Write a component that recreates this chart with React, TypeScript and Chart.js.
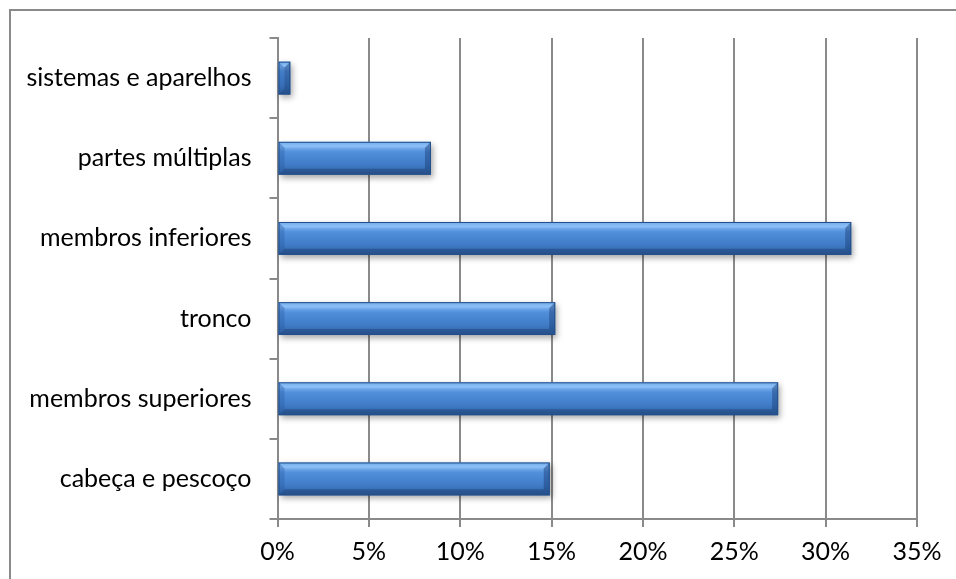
import React, { useEffect, useRef } from "react";
import { Chart, registerables } from "chart.js";

Chart.register(...registerables);

const categories = [
  "sistemas e aparelhos",
  "partes múltiplas",
  "membros inferiores",
  "tronco",
  "membros superiores",
  "cabeça e pescoço",
];
const values = [0.7, 8.4, 31.4, 15.2, 27.4, 14.9];
const xTicks = [0, 5, 10, 15, 20, 25, 30, 35];

const FONT = "Lato, 'DejaVu Sans', sans-serif";
const GRID = "#8a8a8a";

const framePlugin = {
  id: "frame",
  beforeDraw(chart: any) {
    const c = chart.ctx;
    c.save();
    c.fillStyle = "#ffffff";
    c.fillRect(0, 0, chart.width, chart.height);
    c.strokeStyle = "#8a8a8a";
    c.lineWidth = 2;
    c.beginPath();
    c.moveTo(10, chart.height + 5);
    c.lineTo(10, 10);
    c.lineTo(chart.width + 5, 10);
    c.stroke();
    c.restore();
  },
};

const barStylePlugin = {
  id: "barStyle",
  afterDatasetsDraw(chart: any) {
    const c = chart.ctx;
    const meta = chart.getDatasetMeta(0);
    meta.data.forEach((el: any) => {
      const p = el.getProps(["x", "y", "base", "height"], true);
      const left = Math.min(p.base, p.x);
      const right = Math.max(p.base, p.x);
      const top = p.y - p.height / 2;
      const h = p.height;
      const w = right - left;
      const bev = Math.min(6, w / 2);
      c.save();
      c.shadowColor = "rgba(0,0,0,0.35)";
      c.shadowBlur = 6;
      c.shadowOffsetX = 2;
      c.shadowOffsetY = 3;
      const g = c.createLinearGradient(0, top, 0, top + h);
      g.addColorStop(0, "#5b97dc");
      g.addColorStop(0.12, "#86baf3");
      g.addColorStop(0.3, "#5290dc");
      g.addColorStop(0.7, "#3f7bc6");
      g.addColorStop(1, "#2f5f9c");
      c.fillStyle = g;
      c.fillRect(left, top, w, h);
      c.restore();
      c.save();
      c.fillStyle = "rgba(150,200,255,0.35)";
      c.beginPath();
      c.moveTo(left, top);
      c.lineTo(right, top);
      c.lineTo(right - bev, top + bev);
      c.lineTo(left + bev, top + bev);
      c.closePath();
      c.fill();
      c.fillStyle = "rgba(20,50,100,0.35)";
      c.beginPath();
      c.moveTo(left, top + h);
      c.lineTo(right, top + h);
      c.lineTo(right - bev, top + h - bev);
      c.lineTo(left + bev, top + h - bev);
      c.closePath();
      c.fill();
      c.fillStyle = "rgba(25,60,115,0.45)";
      c.beginPath();
      c.moveTo(right, top);
      c.lineTo(right, top + h);
      c.lineTo(right - bev, top + h - bev);
      c.lineTo(right - bev, top + bev);
      c.closePath();
      c.fill();
      c.fillStyle = "rgba(40,90,160,0.35)";
      c.beginPath();
      c.moveTo(left, top);
      c.lineTo(left, top + h);
      c.lineTo(left + bev, top + h - bev);
      c.lineTo(left + bev, top + bev);
      c.closePath();
      c.fill();
      c.strokeStyle = "#23508c";
      c.lineWidth = 1;
      c.strokeRect(left + 0.5, top + 0.5, w - 1, h - 1);
      c.restore();
    });
  },
};

export default function App() {
  const ref = useRef<HTMLCanvasElement>(null);
  useEffect(() => {
    if (!ref.current) return;
    const chart = new Chart(ref.current, {
      type: "bar",
      data: {
        labels: categories,
        datasets: [
          {
            data: values,
            backgroundColor: "rgba(0,0,0,0)",
            borderWidth: 0,
            barPercentage: 0.41,
            categoryPercentage: 1,
          },
        ],
      },
      options: {
        indexAxis: "y",
        animation: false,
        responsive: false,
        maintainAspectRatio: false,
        events: [],
        layout: { padding: { left: 10, top: 38, right: 39, bottom: 0 } },
        plugins: {
          legend: { display: false },
          tooltip: { enabled: false },
        },
        scales: {
          x: {
            min: 0,
            max: 35,
            afterBuildTicks: (s: any) => {
              s.ticks = xTicks.map((v) => ({ value: v }));
            },
            afterFit: (s: any) => {
              s.height = 60;
            },
            grid: {
              color: GRID,
              lineWidth: 2,
              tickLength: 8,
              drawTicks: true,
              tickColor: GRID,
            },
            border: { display: true, color: GRID, width: 2 },
            ticks: {
              color: "#000",
              padding: 10,
              font: { family: FONT, size: 25 },
              callback: (v: any) => v + "%",
              maxRotation: 0,
            },
          },
          y: {
            afterFit: (s: any) => {
              s.width = 267.5;
            },
            grid: {
              offset: true,
              drawOnChartArea: false,
              drawTicks: true,
              tickLength: 8,
              color: GRID,
              tickColor: GRID,
              lineWidth: 2,
            },
            border: { display: true, color: GRID, width: 2 },
            ticks: {
              color: "#000",
              padding: 18,
              font: { family: FONT, size: 25 },
            },
          },
        },
      },
      plugins: [framePlugin, barStylePlugin],
    });
    return () => chart.destroy();
  }, []);
  return (
    <div style={{ position: "fixed", left: 0, top: 0, width: 956, height: 579 }}>
      <canvas ref={ref} width={956} height={579} style={{ display: "block" }} />
    </div>
  );
}
